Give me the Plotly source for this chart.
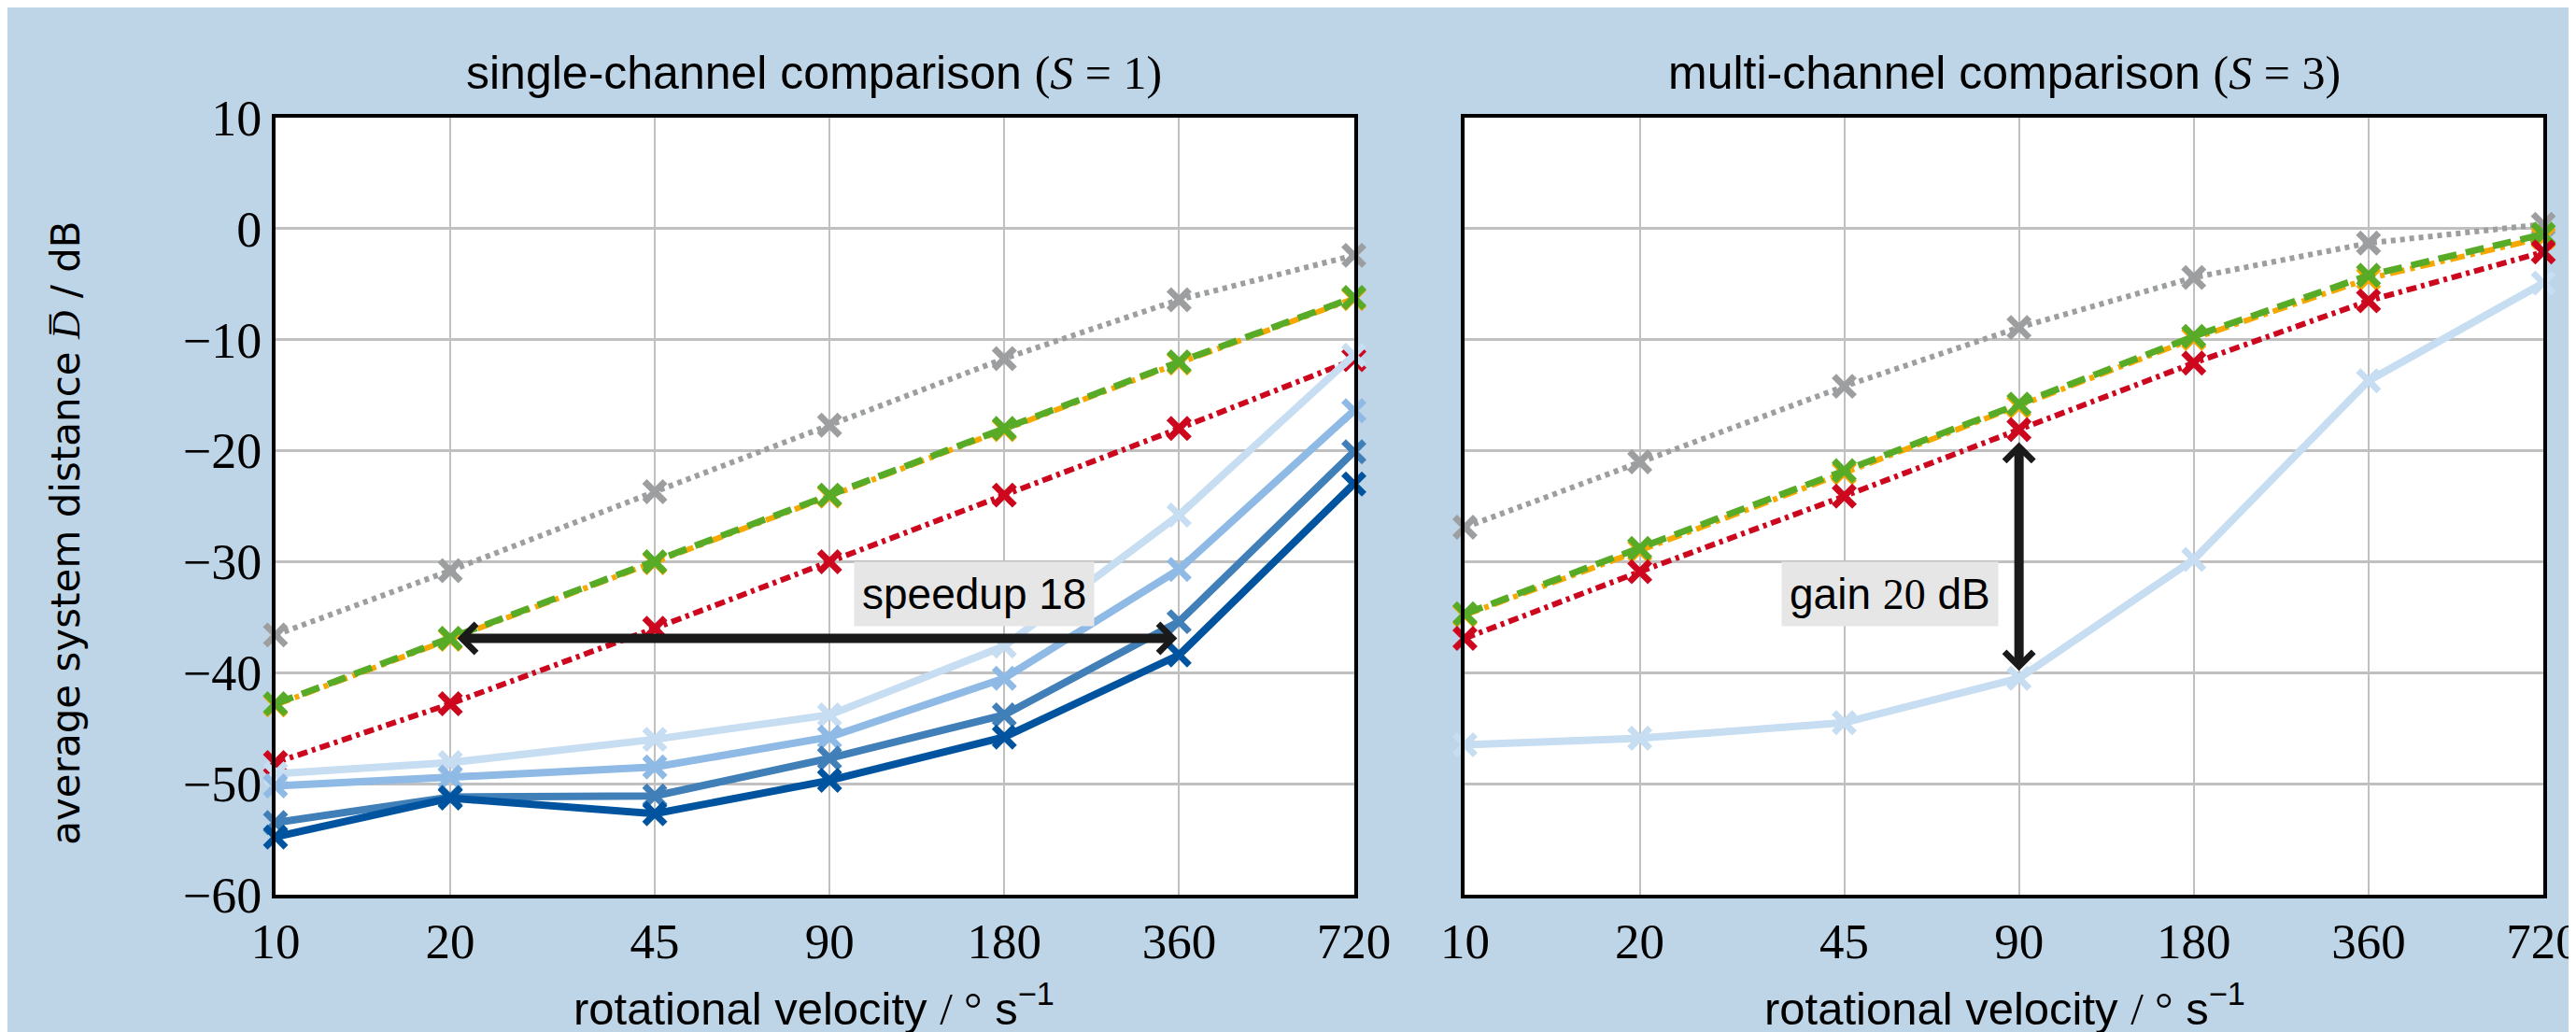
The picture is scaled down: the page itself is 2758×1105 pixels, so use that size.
import math
import plotly.graph_objects as go
from plotly.subplots import make_subplots

# ---------------- data ----------------
velocities = [10, 20, 45, 90, 180, 360, 720]
velocity_labels = ["10", "20", "45", "90", "180", "360", "720"]
y_ticks = [10, 0, -10, -20, -30, -40, -50, -60]
y_tick_labels = ["10", "0", "\u221210", "\u221220", "\u221230", "\u221240", "\u221250", "\u221260"]

# single-channel comparison (S = 1)
gray_s1 = [-36.6, -30.8, -23.7, -17.7, -11.7, -6.4, -2.4]
orange_s1 = [-42.9, -37.0, -30.1, -24.1, -18.1, -12.1, -6.3]
green_s1 = [-42.8, -36.9, -30.0, -24.0, -18.0, -12.0, -6.2]
red_s1 = [-48.1, -42.8, -36.0, -30.0, -24.0, -18.0, -11.8]
blue25_s1 = [-49.1, -48.1, -46.0, -43.8, -37.6, -25.8, -11.4]
blue50_s1 = [-50.2, -49.4, -48.5, -45.8, -40.5, -30.7, -16.4]
blue75_s1 = [-53.5, -51.2, -51.1, -47.7, -43.8, -35.4, -20.1]
blue100_s1 = [-54.8, -51.3, -52.7, -49.7, -45.8, -38.4, -23.0]

# multi-channel comparison (S = 3)
gray_s3 = [-26.9, -21.0, -14.2, -8.9, -4.4, -1.3, 0.4]
orange_s3 = [-34.8, -29.0, -22.0, -16.0, -9.9, -4.5, -0.8]
green_s3 = [-34.7, -28.8, -21.8, -15.8, -9.7, -4.2, -0.5]
red_s3 = [-36.9, -30.9, -24.1, -18.1, -12.1, -6.5, -2.1]
blue25_s3 = [-46.5, -45.9, -44.5, -40.5, -29.8, -13.7, -4.9]

# ---------------- styles ----------------
BG = "#bed4e7"
C_GRAY = "#9c9e9f"
C_ORANGE = "#f6a800"
C_GREEN = "#57ab27"
C_RED = "#cc071e"
C_B25 = "#c7ddf2"
C_B50 = "#8ebae5"
C_B75 = "#407fb7"
C_B100 = "#00549f"

SERIF = "Liberation Serif"
SANS = "Liberation Sans"

fig = make_subplots(rows=1, cols=2, horizontal_spacing=0.049)


def add_line(y, color, dash, width, col, msize=22, mline=7):
    fig.add_trace(
        go.Scatter(
            x=velocities,
            y=y,
            mode="lines+markers",
            line=dict(color=color, width=width, dash=dash),
            marker=dict(symbol="x-thin", size=msize, color=color,
                        line=dict(color=color, width=mline)),
            cliponaxis=False,
            showlegend=False,
        ),
        row=1, col=col,
    )


DOT = "5px,5px"
DASHDOT = "16px,6px,5px,6px"
GREEN_DASH = "20px,10px"
RED_DASH = "11px,5px,4px,5px"

# left panel
add_line(gray_s1, C_GRAY, DOT, 6, 1)
add_line(orange_s1, C_ORANGE, DASHDOT, 6, 1)
add_line(green_s1, C_GREEN, GREEN_DASH, 7, 1)
add_line(red_s1, C_RED, RED_DASH, 6, 1)
add_line(blue25_s1, C_B25, "solid", 8, 1)
add_line(blue50_s1, C_B50, "solid", 8, 1)
add_line(blue75_s1, C_B75, "solid", 8, 1)
add_line(blue100_s1, C_B100, "solid", 8, 1)

# right panel
add_line(gray_s3, C_GRAY, DOT, 6, 2)
add_line(orange_s3, C_ORANGE, DASHDOT, 6, 2)
add_line(green_s3, C_GREEN, GREEN_DASH, 7, 2)
add_line(red_s3, C_RED, RED_DASH, 6, 2)
add_line(blue25_s3, C_B25, "solid", 8, 2)

xaxis_common = dict(
    type="log",
    range=[math.log10(velocities[0]), math.log10(velocities[-1])],
    tickvals=velocities,
    ticktext=velocity_labels,
    tickfont=dict(family=SERIF, size=53, color="black"),
    showgrid=True, gridcolor="#c0c0c0", gridwidth=2,
    showline=True, linecolor="black", linewidth=4, mirror=True,
    ticks="", zeroline=False,
)
yaxis_common = dict(
    range=[-60, 10],
    tickvals=y_ticks,
    ticktext=y_tick_labels,
    tickfont=dict(family=SERIF, size=54, color="black"),
    showgrid=True, gridcolor="#c0c0c0", gridwidth=3,
    showline=True, linecolor="black", linewidth=4, mirror=True,
    ticks="", zeroline=False,
)
fig.update_xaxes(**xaxis_common)
fig.update_yaxes(**yaxis_common)
fig.update_yaxes(showticklabels=False, row=1, col=2)

annotations = []
# panel titles and x titles
for xc, s in [(0.2374, "1"), (0.7624, "3")]:
    name = "single-channel comparison" if s == "1" else "multi-channel comparison"
    annotations.append(dict(
        xref="paper", yref="paper", x=xc, y=1.0577, xanchor="center", yanchor="middle",
        text=f'{name} <span style="font-family:{SERIF}">(<i>S</i> = {s})</span>',
        showarrow=False, font=dict(family=SANS, size=50, color="black"),
    ))
    annotations.append(dict(
        xref="paper", yref="paper", x=xc, y=-0.143, xanchor="center", yanchor="middle",
        text=f'rotational velocity <span style="font-family:{SERIF}">/ °</span> s<sup>\u22121</sup>',
        showarrow=False, font=dict(family=SANS, size=49, color="black"),
    ))
# y title
annotations.append(dict(
    xref="paper", yref="paper", x=-0.0928, y=0.465, xanchor="center", yanchor="middle",
    textangle=-90,
    text=f'average system distance <span style="font-family:{SERIF}"><i>D\u0305</i></span> / dB',
    showarrow=False, font=dict(family="DejaVu Sans", size=42, color="black"),
))

# speedup arrow (left)
annotations.append(dict(
    xref="x", yref="y", axref="x", ayref="y",
    x=math.log10(velocities[5]), y=green_s1[1],
    ax=math.log10(velocities[1]), ay=green_s1[1],
    text="", showarrow=True, arrowside="end+start",
    arrowhead=4, startarrowhead=4, arrowsize=0.6, startarrowsize=0.6,
    arrowwidth=10, arrowcolor="#1a1a1a", standoff=2, startstandoff=6,
))
annotations.append(dict(
    xref="x", yref="y", x=math.log10(160), y=-32.9, xanchor="center", yanchor="middle",
    text="speedup 18", showarrow=False, bgcolor="#e6e6e6", borderpad=8,
    font=dict(family=SANS, size=46, color="black"),
))
# gain arrow (right)
annotations.append(dict(
    xref="x2", yref="y2", axref="x2", ayref="y2",
    x=math.log10(velocities[3]), y=blue25_s3[3],
    ax=math.log10(velocities[3]), ay=red_s3[3],
    text="", showarrow=True, arrowside="end+start",
    arrowhead=4, startarrowhead=4, arrowsize=0.6, startarrowsize=0.6,
    arrowwidth=10, arrowcolor="#1a1a1a", standoff=8, startstandoff=12,
))
annotations.append(dict(
    xref="x2", yref="y2", x=math.log10(54), y=-32.9, xanchor="center", yanchor="middle",
    text=f'gain <span style="font-family:{SERIF}">20</span> dB', showarrow=False,
    bgcolor="#e6e6e6", borderpad=8,
    font=dict(family=SANS, size=46, color="black"),
))

fig.update_layout(
    width=2758, height=1105,
    margin=dict(l=287, r=3, t=118, b=155),
    paper_bgcolor=BG, plot_bgcolor="white",
    annotations=annotations,
    showlegend=False,
)

fig.write_html("out.html")
